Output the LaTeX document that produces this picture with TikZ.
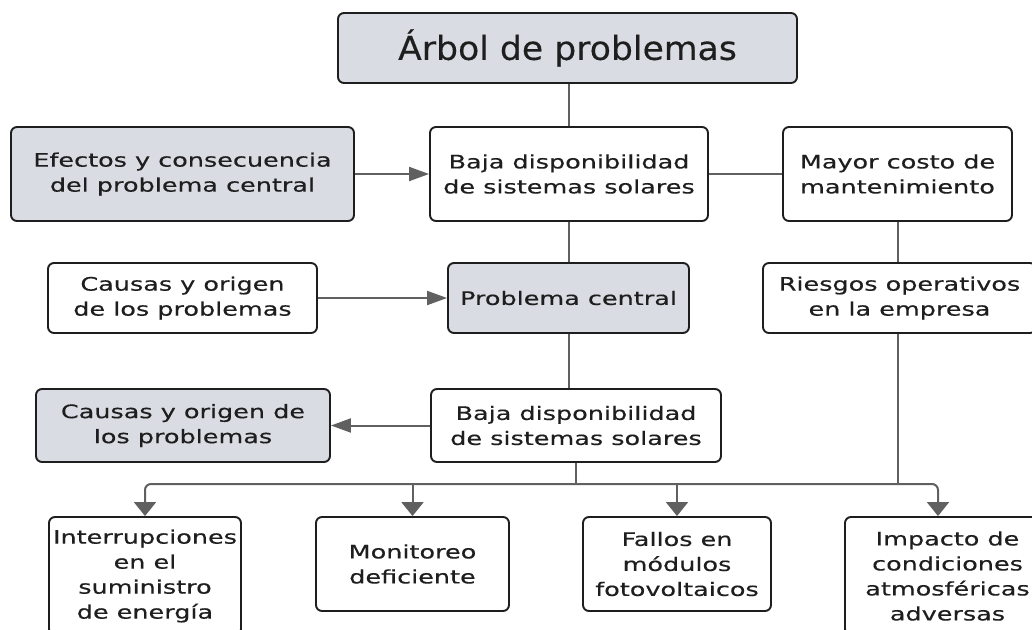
\documentclass[tikz,border=0pt]{standalone}
\usepackage{fontspec}
\usetikzlibrary{arrows.meta,calc}
\newfontfamily\bodyfont[FakeStretch=1.37,FakeBold=0.4]{DejaVu Sans}
\newfontfamily\titlefont[FakeStretch=1.05,FakeBold=0.3]{DejaVu Sans}
\definecolor{boxgrey}{HTML}{D9DDE3}
\definecolor{linegrey}{HTML}{606060}
\definecolor{ink}{HTML}{1E1E1E}
\begin{document}
\begin{tikzpicture}[x=1pt,y=-1pt,
  box/.style={draw=ink, line width=1.9pt, rounded corners=6pt, fill=white,
    align=center, inner sep=2pt, text=ink,
    font=\bodyfont\fontsize{18.6}{25}\selectfont},
  greybox/.style={box, fill=boxgrey},
  conn/.style={draw=linegrey, line width=2pt},
  harr/.style={conn, -{Triangle[length=20pt,width=14pt]}},
  varr/.style={conn, -{Triangle[length=14pt,width=22pt]}},
]
\useasboundingbox (0,0) rectangle (1032,629);
\clip (0,0) rectangle (1032,629);
\fill[white] (0,0) rectangle (1032,629);

% nodes
\node[greybox, minimum width=459pt, minimum height=70pt,
      font=\titlefont\fontsize{33}{38}\selectfont] (title) at (567.5,48) {Árbol de problemas};
\node[greybox, minimum width=343pt, minimum height=94pt] (eff) at (182.5,174) {Efectos y consecuencia\\del problema central};
\node[box, minimum width=278pt, minimum height=94pt] (baja1) at (569,174) {Baja disponibilidad\\de sistemas solares};
\node[box, minimum width=229pt, minimum height=94pt] (mayor) at (897.5,174) {Mayor costo de\\mantenimiento};
\node[box, minimum width=269pt, minimum height=70pt] (causas1) at (182.5,298) {Causas y origen\\de los problemas};
\node[greybox, minimum width=241pt, minimum height=70pt] (central) at (568.5,298) {Problema central};
\node[box, minimum width=273pt, minimum height=70pt] (riesgos) at (899.5,298) {Riesgos operativos\\en la empresa};
\node[greybox, minimum width=294pt, minimum height=73pt] (causas2) at (183,425.5) {Causas y origen de\\los problemas};
\node[box, minimum width=290pt, minimum height=73pt] (baja2) at (576,425.5) {Baja disponibilidad\\de sistemas solares};
\node[box, minimum width=192pt, minimum height=118pt] (interr) at (145,576) {Interrupciones\\en el\\suministro\\de energía};
\node[box, minimum width=193pt, minimum height=94pt] (monit) at (412.5,564) {Monitoreo\\deficiente};
\node[box, minimum width=188pt, minimum height=94pt] (fallos) at (677,564) {Fallos en\\módulos\\fotovoltaicos};
\node[box, minimum width=205pt, minimum height=118pt] (impacto) at (947.5,576) {Impacto de\\condiciones\\atmosféricas\\adversas};

% connectors
\coordinate (bus) at (576,484);
\coordinate (impin) at ($(impacto.north)+(-9.5,0)$);
\draw[conn] (title.south -| baja1.north) -- (baja1.north);
\draw[harr] (eff.east) -- (baja1.west);
\draw[conn] (baja1.east) -- (mayor.west);
\draw[conn] (baja1.south) -- (baja1.south |- central.north);
\draw[conn] (mayor.south) -- (mayor.south |- riesgos.north);
\draw[harr] (causas1.east) -- (central.west);
\draw[conn] (central.south) -- (central.south |- baja2.north);
\draw[harr] (baja2.west) -- (causas2.east);
\draw[conn] (baja2.south) -- (bus);
\draw[conn] (mayor.south |- riesgos.south) -- (mayor.south |- bus);
\draw[varr, rounded corners=6pt] (bus) -| (interr.north);
\draw[varr, rounded corners=6pt] (bus) -| (impin);
\draw[varr] (monit.north |- bus) -- (monit.north);
\draw[varr] (fallos.north |- bus) -- (fallos.north);
\end{tikzpicture}
\end{document}
